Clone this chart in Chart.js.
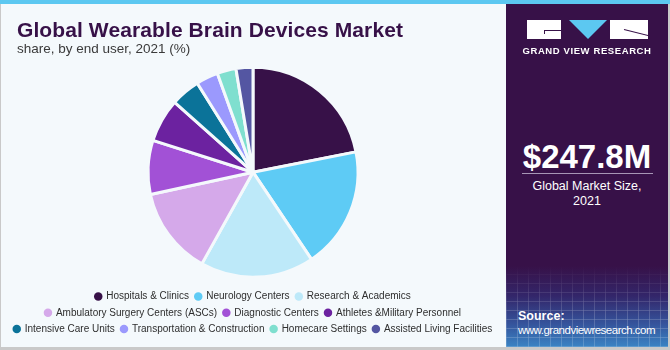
<!DOCTYPE html>
<html>
<head>
<meta charset="utf-8">
<title>Wearable Brain Devices Market</title>
<script src="https://cdn.jsdelivr.net/npm/chart.js@4/dist/chart.umd.min.js"></script>
<style>
  body { margin: 0; background: #ffffff; }
  #frame { position: relative; width: 670px; height: 350px; background: #c9c9c9; overflow: hidden;
           font-family: "Liberation Sans", Arial, sans-serif; }
  #left { position: absolute; left: 1px; top: 0; width: 505px; height: 347px; background: #f4f9fc; }
  #shareChart { position: absolute; left: 0; top: 0; }
  #stripe { position: absolute; left: 0; top: 0; width: 670px; height: 4px; background: #5cc8f1; }
  .title { position: absolute; left: 17px; top: 17px; font-size: 21px; font-weight: bold; color: #371148;
           white-space: nowrap; line-height: 25px; letter-spacing: 0.1px; }
  .subtitle { position: absolute; left: 17px; top: 41px; font-size: 13.5px; color: #3a3a3a;
              white-space: nowrap; line-height: 16px; }
  #side { position: absolute; left: 506px; top: 4px; width: 162px; height: 343px;
          background: linear-gradient(to bottom, #371148 0px, #371148 262px, #33266a 292px, #35549c 320px, #3a84c4 343px); }
  #grid { position: absolute; left: 0; top: 262px; width: 162px; height: 81px; opacity: 0.35;
          background:
            repeating-linear-gradient(90deg, rgba(255,255,255,0.5) 0 1px, transparent 1px 11px),
            repeating-linear-gradient(0deg, rgba(255,255,255,0.5) 0 1px, transparent 1px 9px);
          -webkit-mask-image: linear-gradient(to bottom, transparent, #000 60%);
          mask-image: linear-gradient(to bottom, transparent, #000 60%); }
  .logo-g { position: absolute; left: 21px; top: 16px; width: 34px; height: 19px; background: #ffffff; }
  .logo-g::after { content: ""; position: absolute; left: 17px; top: 10px; width: 17px; height: 1px; background: #371148; }
  .logo-g::before { content: ""; position: absolute; left: 17px; top: 10px; width: 1px; height: 4px; background: #371148; }
  .logo-v { position: absolute; left: 63px; top: 16px; width: 0; height: 0;
            border-left: 19px solid transparent; border-right: 19px solid transparent; border-top: 19px solid #5cc8f1; }
  .logo-r { position: absolute; left: 104px; top: 16px; width: 38px; height: 19px; background: #ffffff; overflow: hidden; }
  .logo-r::after { content: ""; position: absolute; left: 14px; top: 9px; width: 27px; height: 1px; background: #371148;
                   transform: rotate(14deg); transform-origin: left center; }
  .brand { position: absolute; left: 0; top: 41px; width: 162px; text-align: center; color: #ffffff;
           font-size: 9.5px; font-weight: bold; letter-spacing: 0.6px; }
  .value { position: absolute; left: 0; top: 134px; width: 162px; text-align: center; color: #ffffff;
           font-size: 33px; font-weight: bold; line-height: 38px; }
  .rule { position: absolute; left: 16px; top: 169px; width: 131px; height: 1px; background: #a796b6; }
  .caption { position: absolute; left: 0; top: 175px; width: 162px; text-align: center; color: #ffffff;
             font-size: 12.5px; line-height: 15px; }
  .source { position: absolute; left: 12px; top: 305px; color: #ffffff; font-size: 11.5px; line-height: 14px;
            letter-spacing: -0.5px; }
  .source b { font-size: 12.5px; letter-spacing: 0; }
</style>
</head>
<body>
<div id="frame">
  <div id="left"></div>
  <canvas id="shareChart" width="506" height="347"></canvas>
  <div class="title">Global Wearable Brain Devices Market</div>
  <div class="subtitle">share, by end user, 2021 (%)</div>
  <div id="side">
    <div id="grid"></div>
    <div class="logo-g"></div>
    <div class="logo-v"></div>
    <div class="logo-r"></div>
    <div class="brand">GRAND VIEW RESEARCH</div>
    <div class="value">$247.8M</div>
    <div class="rule"></div>
    <div class="caption">Global Market Size,<br>2021</div>
    <div class="source"><b>Source:</b><br>www.grandviewresearch.com</div>
  </div>
  <div id="stripe"></div>
</div>
<script>
// End-user segments and their share of the 2021 market (%)
var endUsers = ["Hospitals & Clinics", "Neurology Centers", "Research & Academics",
                "Ambulatory Surgery Centers (ASCs)", "Diagnostic Centers", "Athletes &Military Personnel",
                "Intensive Care Units", "Transportation & Construction", "Homecare Settings",
                "Assisted Living Facilities"];
var shares = [21.9, 18.7, 17.5, 13.5, 8.3, 6.7, 4.5, 3.4, 2.9, 2.6];
var sliceColors = ["#371148", "#5ecbf5", "#bde9f9", "#d5a9ea", "#a251d6",
                   "#6c22a0", "#0b7399", "#9b99fd", "#7fdfcf", "#5456a2"];

new Chart("shareChart", {
    type: 'pie',
    data: {
        labels: endUsers,
        datasets: [{
            data: shares,
            backgroundColor: sliceColors,
            borderColor: "#f4f9fc",
            borderWidth: 3,
            radius: 105
        }]
    },
    options: {
        responsive: false,
        animation: false,
        layout: {
            padding: { top: 59, bottom: 3, left: 0, right: 0 }
        },
        plugins: {
            tooltip: { enabled: false },
            legend: {
                display: true,
                position: 'bottom',
                labels: {
                    usePointStyle: true,
                    pointStyle: 'circle',
                    boxWidth: 6,
                    boxHeight: 6,
                    padding: 6.2,
                    color: "#2e2e2e",
                    font: { family: "Liberation Sans", size: 10 },
                    // legend dots are drawn without the slice border
                    generateLabels: function (chart) {
                        var items = Chart.overrides.doughnut.plugins.legend.labels.generateLabels(chart);
                        items.forEach(function (item) {
                            item.lineWidth = 0;
                            item.strokeStyle = item.fillStyle;
                        });
                        return items;
                    }
                }
            }
        }
    }
});
</script>
</body>
</html>
